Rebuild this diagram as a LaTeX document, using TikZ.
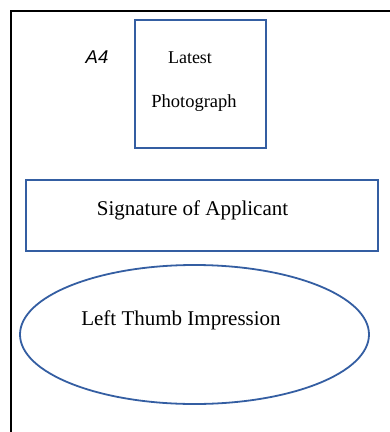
\documentclass[tikz,border=0pt]{standalone}
\usepackage{fontspec}
\setmainfont{Liberation Serif}
\newfontfamily\arialfont{Liberation Sans}
\usetikzlibrary{shapes.geometric}
\definecolor{boxblue}{RGB}{52,94,162}
\begin{document}
\begin{tikzpicture}[x=1pt,y=-1pt,
  bluebox/.style={draw=boxblue,line width=1.8pt,rectangle,inner sep=0pt},
  label/.style={inner sep=0pt,anchor=base}]
\useasboundingbox (0,0) rectangle (390,432);
% outer frame
\coordinate (fbl) at (10.5,433);
\coordinate (ftl) at (10.5,10.5);
\coordinate (ftr) at (391,10.5);
\draw[black,line width=2pt] (fbl) -- (ftl) -- (ftr);
% photo box
\node[bluebox,minimum width=131pt,minimum height=128pt] (photo) at (200.5,84) {};
\node[label,font=\fontsize{18}{20}\selectfont] (latest) at (190,63) {Latest};
\node[label,font=\fontsize{18.5}{20}\selectfont] (photograph) at (194,107) {Photograph};
\node[label,font=\arialfont\itshape\fontsize{18.5}{20}\selectfont] (a4) at (97,63) {A4};
% signature box
\node[bluebox,minimum width=352pt,minimum height=71pt] (sig) at (202,215.5) {};
\node[label,font=\fontsize{21}{24}\selectfont] (sigtext) at (192.5,215) {Signature of Applicant};
% thumb ellipse
\node[draw=boxblue,line width=1.8pt,ellipse,minimum width=349pt,minimum height=139pt,inner sep=0pt] (thumb) at (194.5,334.5) {};
\node[label,font=\fontsize{21}{24}\selectfont] (thumbtext) at (181,325) {Left Thumb Impression};
\end{tikzpicture}
\end{document}
